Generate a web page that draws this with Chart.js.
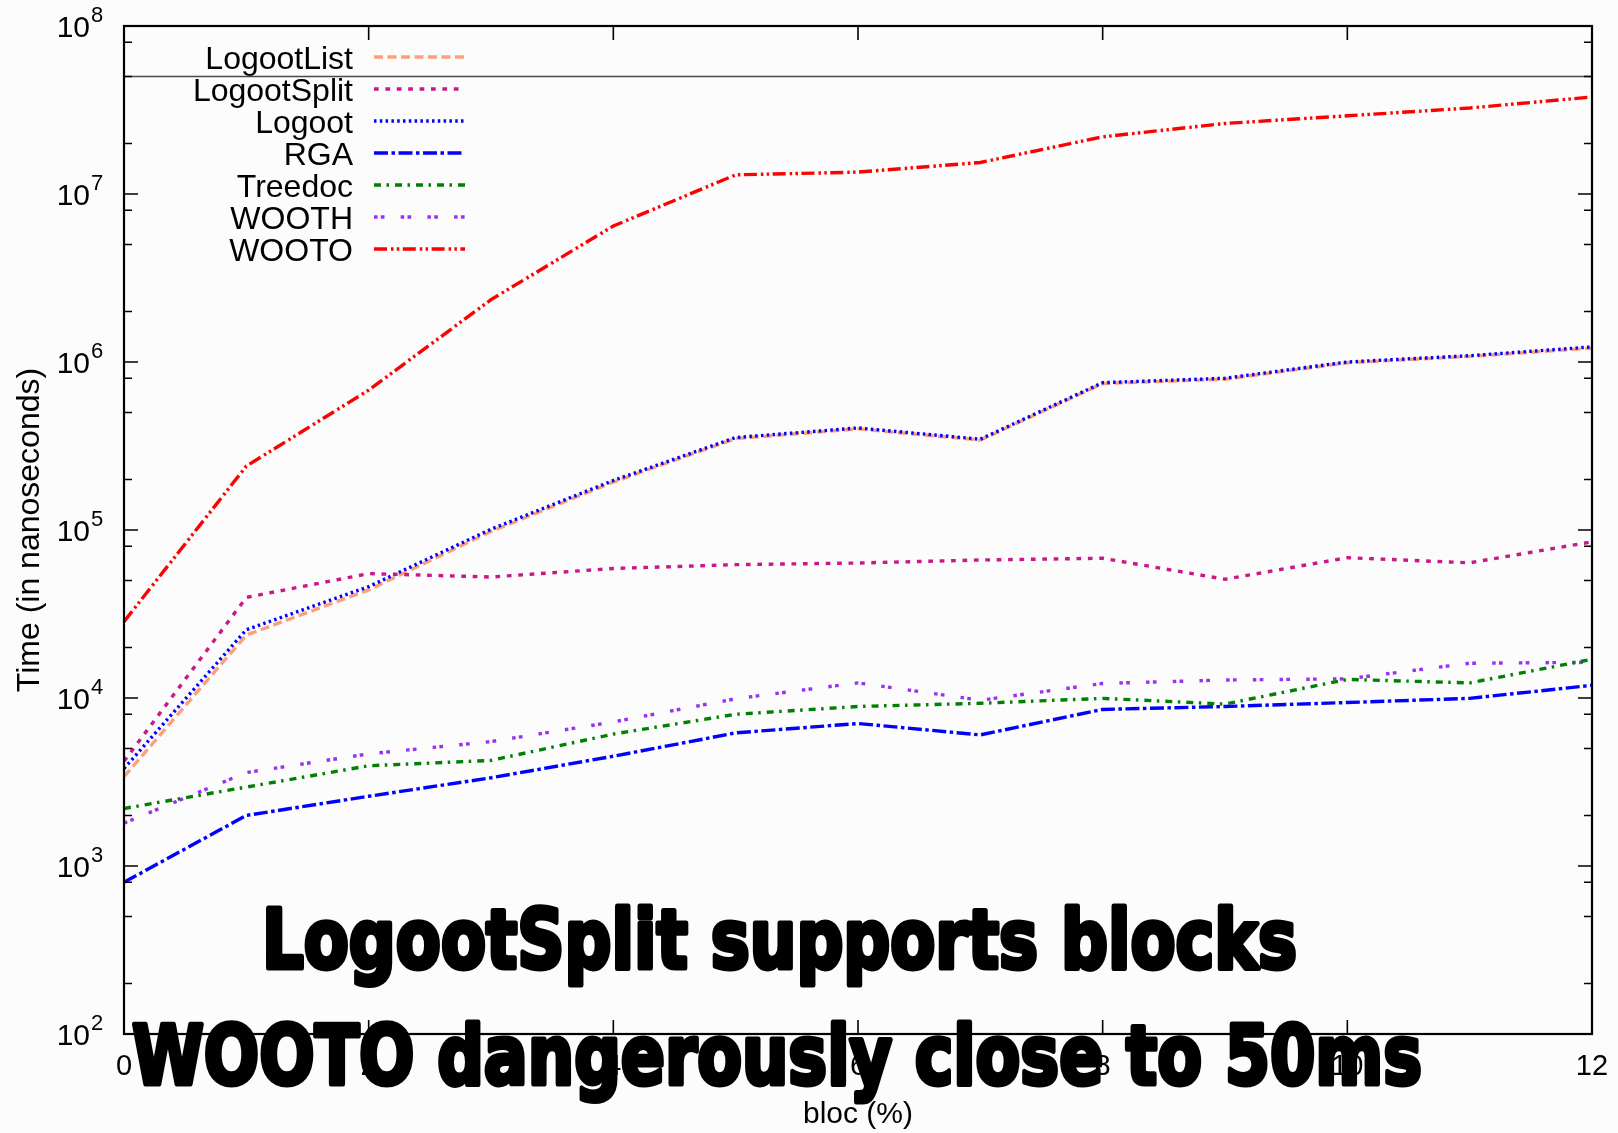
<!DOCTYPE html>
<html>
<head>
<meta charset="utf-8">
<title>Time per operation vs bloc (%)</title>
<script src="https://cdn.jsdelivr.net/npm/chart.js@4.4.0/dist/chart.umd.min.js"></script>
<style>
    html, body { margin: 0; padding: 0; background: #fcfcfc; }
    #timeChart { display: block; }
</style>
</head>
<body>
<canvas id="timeChart" width="1618" height="1133"></canvas>
<script>
// bloc (%) on the x axis
const blocPercent = [0, 1, 2, 3, 4, 5, 6, 7, 8, 9, 10, 11, 12];

// time in nanoseconds
const logootList  = [3.4e3, 2.37e4, 4.4e4, 9.8e4, 1.93e5, 3.5e5, 4.0e5, 3.43e5, 7.45e5, 7.9e5, 9.9e5, 1.08e6, 1.21e6];
const logootSplit = [4.2e3, 3.97e4, 5.5e4, 5.25e4, 5.9e4, 6.22e4, 6.36e4, 6.63e4, 6.79e4, 5.09e4, 6.84e4, 6.38e4, 8.5e4];
const logoot      = [3.8e3, 2.55e4, 4.6e4, 1.01e5, 1.97e5, 3.55e5, 4.05e5, 3.47e5, 7.53e5, 8.0e5, 1.0e6, 1.09e6, 1.23e6];
const rga         = [8.0e2, 2.0e3, 2.6e3, 3.35e3, 4.5e3, 6.2e3, 7.05e3, 6.03e3, 8.55e3, 8.9e3, 9.4e3, 9.95e3, 1.19e4];
const treedoc     = [2.2e3, 2.95e3, 3.95e3, 4.25e3, 6.1e3, 8.0e3, 8.9e3, 9.3e3, 9.95e3, 9.2e3, 1.29e4, 1.23e4, 1.70e4];
const wooth       = [1.8e3, 3.6e3, 4.65e3, 5.5e3, 7.2e3, 9.9e3, 1.23e4, 9.7e3, 1.22e4, 1.28e4, 1.30e4, 1.61e4, 1.63e4];
const wooto       = [2.85e4, 2.4e5, 6.8e5, 2.35e6, 6.45e6, 1.3e7, 1.35e7, 1.54e7, 2.19e7, 2.63e7, 2.92e7, 3.25e7, 3.78e7];

// 50 ms limit line
const limitX = [0, 12];
const limitY = [5e7, 5e7];

// ticks
const xTickValues = [0, 2, 4, 6, 8, 10, 12];
const yDecades = [2, 3, 4, 5, 6, 7, 8];
const yMinorSteps = [2, 5, 8];

const overlayLines = ['LogootSplit supports blocks', 'WOOTO dangerously close to 50ms'];

function toPoints(xs, ys) {
    return xs.map((x, i) => ({ x: x, y: ys[i] }));
}

// frame box with inward ticks on all four sides, plus the 10^n labels
const frameTicks = {
    id: 'frameTicks',
    afterDatasetsDraw(chart) {
        const { ctx, chartArea: a, scales: { x, y } } = chart;
        ctx.save();
        ctx.strokeStyle = '#000';
        ctx.lineWidth = 1.6;
        ctx.beginPath();
        yDecades.forEach(e => {
            const py = y.getPixelForValue(Math.pow(10, e));
            ctx.moveTo(a.left, py); ctx.lineTo(a.left + 14, py);
            ctx.moveTo(a.right, py); ctx.lineTo(a.right - 14, py);
            if (e === 8) return;
            yMinorSteps.forEach(m => {
                const pm = y.getPixelForValue(m * Math.pow(10, e));
                ctx.moveTo(a.left, pm); ctx.lineTo(a.left + 8, pm);
                ctx.moveTo(a.right, pm); ctx.lineTo(a.right - 8, pm);
            });
        });
        xTickValues.forEach(v => {
            const px = x.getPixelForValue(v);
            ctx.moveTo(px, a.top); ctx.lineTo(px, a.top + 14);
            ctx.moveTo(px, a.bottom); ctx.lineTo(px, a.bottom - 14);
        });
        ctx.stroke();
        ctx.lineWidth = 2.2;
        ctx.strokeRect(a.left, a.top, a.right - a.left, a.bottom - a.top);

        // decade labels: "10" with a raised exponent
        ctx.fillStyle = '#000';
        ctx.textBaseline = 'alphabetic';
        yDecades.forEach(e => {
            const py = y.getPixelForValue(Math.pow(10, e));
            ctx.font = '30px "Liberation Sans", Arial, sans-serif';
            ctx.textAlign = 'right';
            ctx.fillText('10', a.left - 34, py + 11);
            ctx.font = '22px "Liberation Sans", Arial, sans-serif';
            ctx.textAlign = 'left';
            ctx.fillText(String(e), a.left - 33, py - 4);
        });
        ctx.restore();
    }
};

// legend in the top left corner: text right aligned, line sample after it
const insideLegend = {
    id: 'insideLegend',
    afterDatasetsDraw(chart) {
        const ctx = chart.ctx;
        const left = chart.chartArea.left;
        ctx.save();
        ctx.font = '32px "Liberation Sans", Arial, sans-serif';
        ctx.textAlign = 'right';
        ctx.textBaseline = 'alphabetic';
        let row = 0;
        chart.data.datasets.forEach(ds => {
            if (ds.noLegend) return;
            const cy = 57 + row * 32;
            ctx.fillStyle = '#000';
            ctx.fillText(ds.label, left + 229, cy + 11.5);
            ctx.strokeStyle = ds.borderColor;
            ctx.lineWidth = 3.3;
            ctx.setLineDash(ds.borderDash || []);
            ctx.beginPath();
            ctx.moveTo(left + 250, cy);
            ctx.lineTo(left + 341, cy);
            ctx.stroke();
            ctx.setLineDash([]);
            row++;
        });
        ctx.restore();
    }
};

// the two big captions written over the plot
const overlayText = {
    id: 'overlayText',
    afterDraw(chart) {
        const ctx = chart.ctx;
        const boxes = [
            { left: 260, right: 1299, baseline: 968 },
            { left: 130, right: 1424, baseline: 1084 }
        ];
        ctx.save();
        ctx.font = 'bold 82px "DejaVu Sans", sans-serif';
        ctx.fillStyle = '#000';
        ctx.strokeStyle = '#000';
        ctx.lineWidth = 5;
        ctx.lineJoin = 'round';
        overlayLines.forEach((line, i) => {
            const b = boxes[i];
            const w = ctx.measureText(line).width + ctx.lineWidth;
            const sx = (b.right - b.left) / w;
            ctx.save();
            ctx.translate(b.left + 2.5 * sx, b.baseline);
            ctx.scale(sx, 1);
            ctx.fillText(line, 0, 0);
            ctx.strokeText(line, 0, 0);
            ctx.restore();
        });
        ctx.restore();
    }
};

document.addEventListener("DOMContentLoaded", function () {
    Chart.defaults.font.family = '"Liberation Sans", Arial, sans-serif';
    Chart.defaults.color = '#000';

    const timeCtx = document.getElementById("timeChart").getContext("2d");
    new Chart(timeCtx, {
        type: 'line',
        data: {
            datasets: [
                {
                    label: 'LogootList',
                    data: toPoints(blocPercent, logootList),
                    borderColor: '#ffa07a',
                    borderDash: [9, 4.5],
                    order: 1
                },
                {
                    label: 'LogootSplit',
                    data: toPoints(blocPercent, logootSplit),
                    borderColor: '#c8188a',
                    borderDash: [4.7, 6.7]
                },
                {
                    label: 'Logoot',
                    data: toPoints(blocPercent, logoot),
                    borderColor: '#0000ff',
                    borderDash: [2.5, 3.3]
                },
                {
                    label: 'RGA',
                    data: toPoints(blocPercent, rga),
                    borderColor: '#0000ff',
                    borderDash: [14, 3.5, 3.5, 3.5]
                },
                {
                    label: 'Treedoc',
                    data: toPoints(blocPercent, treedoc),
                    borderColor: '#008000',
                    borderDash: [7, 5.5, 2.5, 6]
                },
                {
                    label: 'WOOTH',
                    data: toPoints(blocPercent, wooth),
                    borderColor: '#9932f0',
                    borderDash: [3.5, 3.3, 3.7, 16.2]
                },
                {
                    label: 'WOOTO',
                    data: toPoints(blocPercent, wooto),
                    borderColor: '#ff0000',
                    borderDash: [13, 4, 2.5, 3.3, 2.5, 3.5]
                },
                {
                    label: '50 ms',
                    data: toPoints(limitX, limitY),
                    borderColor: '#4a4a4a',
                    borderWidth: 1.5,
                    noLegend: true
                }
            ]
        },
        options: {
            responsive: false,
            animation: false,
            devicePixelRatio: 1,
            layout: { padding: { top: 26, right: 26, left: 0, bottom: 0 } },
            elements: {
                line: { borderWidth: 3.4, tension: 0, fill: false, borderCapStyle: 'butt' },
                point: { radius: 0, hoverRadius: 0 }
            },
            plugins: {
                legend: { display: false },
                tooltip: { enabled: false }
            },
            scales: {
                x: {
                    type: 'linear',
                    min: 0,
                    max: 12,
                    afterFit: s => { s.height = 99; s.paddingLeft = 0; s.paddingRight = 0; },
                    afterBuildTicks: s => { s.ticks = xTickValues.map(v => ({ value: v })); },
                    grid: { display: false, drawTicks: false },
                    border: { display: false },
                    ticks: { padding: 16, font: { size: 29 }, maxRotation: 0, autoSkip: false },
                    title: { display: true, text: 'bloc (%)', font: { size: 30 }, padding: { top: 0, bottom: 0 } }
                },
                y: {
                    type: 'logarithmic',
                    min: 1e2,
                    max: 1e8,
                    afterFit: s => { s.width = 124; s.paddingTop = 0; s.paddingBottom = 0; },
                    grid: { display: false, drawTicks: false },
                    border: { display: false },
                    ticks: { display: false },
                    title: { display: true, text: 'Time (in nanoseconds)', font: { size: 32 }, padding: { top: 11, bottom: 0 } }
                }
            }
        },
        plugins: [frameTicks, insideLegend, overlayText]
    });
});
</script>
</body>
</html>
